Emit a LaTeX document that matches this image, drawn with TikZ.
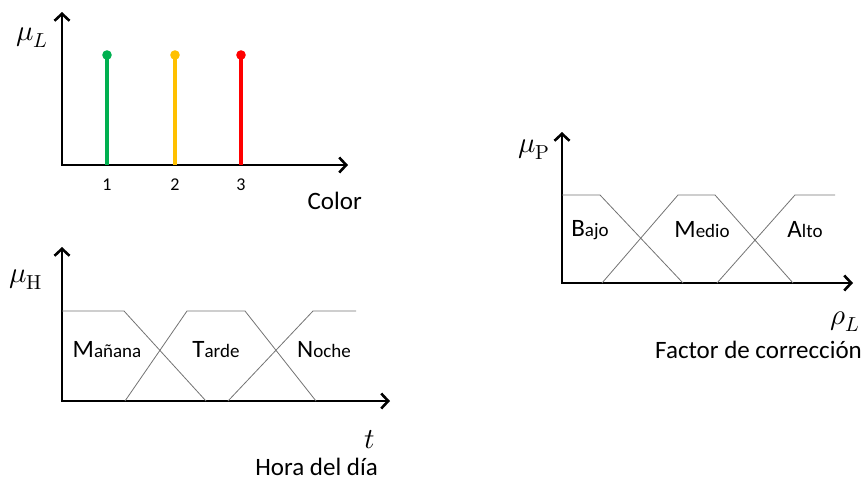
\documentclass[tikz,border=0pt]{standalone}
\usepackage{fontspec}
\usepackage{unicode-math}
\setmainfont{Carlito}
\setmathfont{Latin Modern Math}
\usetikzlibrary{arrows.meta}
\definecolor{stemgreen}{HTML}{00B050}
\definecolor{stemyellow}{HTML}{FFC000}
\definecolor{stemred}{HTML}{FF0000}
\newcommand{\setname}[2]{{\fontsize{25}{25}\selectfont #1}{\fontsize{19}{19}\selectfont #2}}
\tikzset{
  axisarrow/.style={line width=2.6pt, line join=miter, {Straight Barb[length=7pt,width=15pt]}-{Straight Barb[length=7pt,width=15pt]}},
  mfline/.style={draw=black!55, line width=0.8pt},
  stemline/.style={line width=3.4pt},
  bigtext/.style={font=\fontsize{25}{28}\selectfont, inner sep=0pt},
  mathtext/.style={font=\fontsize{29}{30}\selectfont, inner sep=0pt},
  ticktext/.style={font=\fontsize{18}{20}\selectfont, inner sep=0pt}
}

\begin{document}
\begin{tikzpicture}[x=1pt, y=-1pt]
\useasboundingbox (0,0) rectangle (863,483);

% color
\draw[axisarrow] (62,12) -- (62,165) -- (348,165);
\node[mathtext] (muL) at (32,38) {$\mu_L$};
\draw[stemline, stemgreen] (107,165) -- (107,55);
\fill[stemgreen] (107,55) circle [radius=4.8];
\draw[stemline, stemyellow] (175,165) -- (175,55);
\fill[stemyellow] (175,55) circle [radius=4.8];
\draw[stemline, stemred] (241,165) -- (241,55);
\fill[stemred] (241,55) circle [radius=4.8];
\node[ticktext] (one) at (107,185) {1};
\node[ticktext] (two) at (175,185) {2};
\node[ticktext] (three) at (241,185) {3};
\node[bigtext, anchor=east] (colorlbl) at (362,201) {Color};

% hora del dia
\draw[axisarrow] (62,247) -- (62,401) -- (390,401);
\node[mathtext] (muH) at (26,280) {$\mu_{\symup{H}}$};
\draw[mfline] (62,311) -- (124,311) -- (206,401);
\draw[mfline] (125,401) -- (187,311) -- (245,311) -- (316,401);
\draw[mfline] (228,401) -- (313,311) -- (356,311);
\node[inner sep=0pt] (manana) at (107,350) {\setname{M}{añana}};
\node[inner sep=0pt] (tarde) at (216,350) {\setname{T}{arde}};
\node[inner sep=0pt] (noche) at (324,350) {\setname{N}{oche}};
\node[mathtext] (tvar) at (370,440) {$t$};
\node[bigtext, anchor=east] (horalbl) at (378,467) {Hora del día};

% factor de correccion
\draw[axisarrow] (562,132) -- (562,283) -- (853,283);
\node[mathtext] (muP) at (534,150) {$\mu_{\symup{P}}$};
\draw[mfline] (562,195) -- (600,195) -- (683,283);
\draw[mfline] (602,283) -- (678,195) -- (715,195) -- (793,283);
\draw[mfline] (717,283) -- (795,195) -- (835,195);
\node[inner sep=0pt] (bajo) at (590,230) {\setname{B}{ajo}};
\node[inner sep=0pt] (medio) at (702,230) {\setname{M}{edio}};
\node[inner sep=0pt] (alto) at (805,230) {\setname{A}{lto}};
\node[mathtext] (rhoL) at (845,322) {$\rho_L$};
\node[bigtext, anchor=east] (factorlbl) at (862,350) {Factor de corrección};
\end{tikzpicture}
\end{document}
